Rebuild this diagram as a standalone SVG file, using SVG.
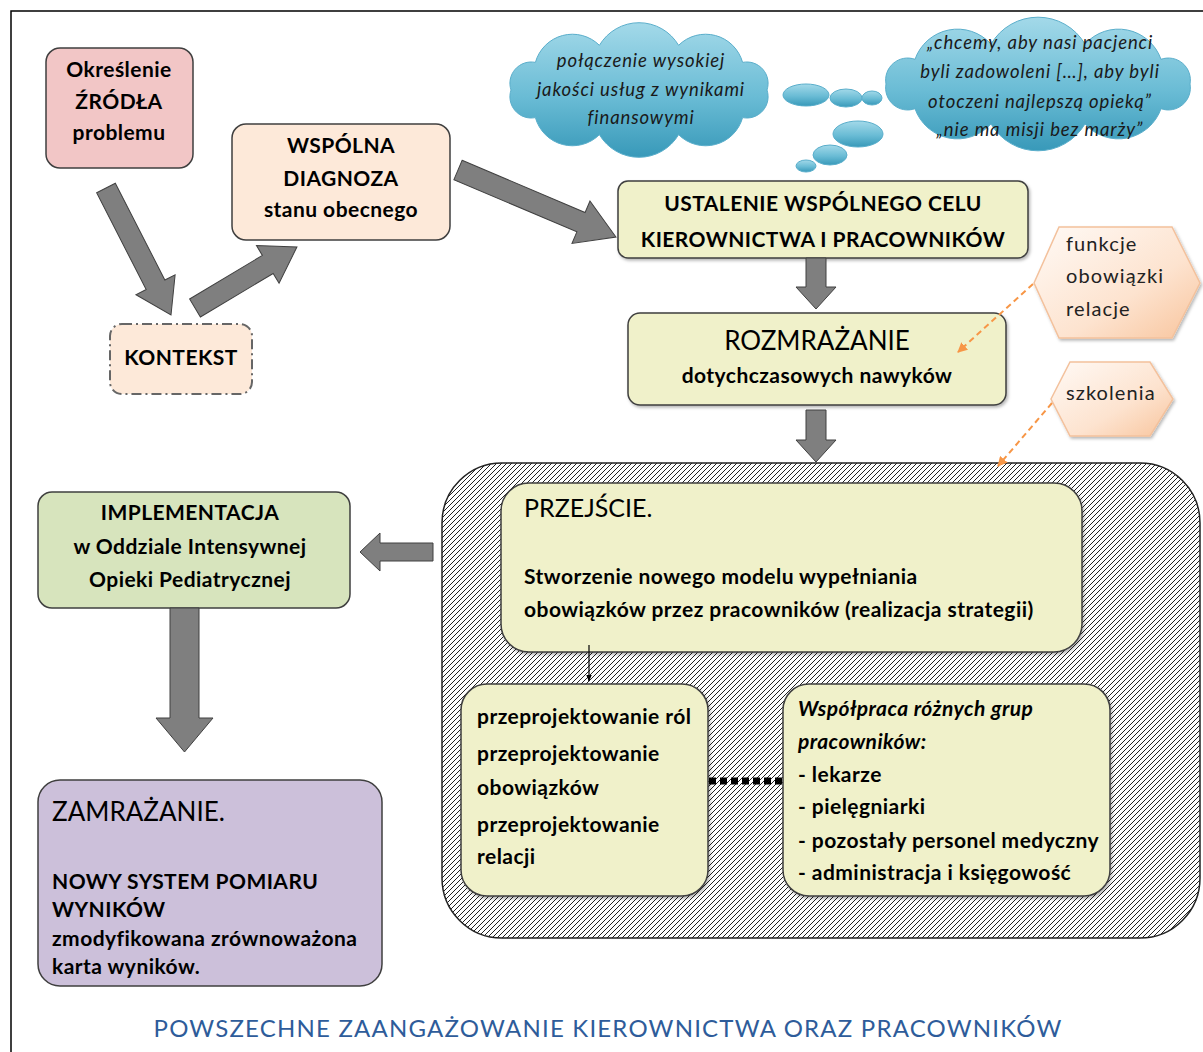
<svg xmlns="http://www.w3.org/2000/svg" width="1203" height="1052" viewBox="0 0 1203 1052">
<defs>
<style>
.box{stroke:#3f3f3f;stroke-width:1.5}
.t{font-family:Lato,"Liberation Sans",sans-serif}
.b{font-weight:bold;font-size:21px;letter-spacing:0.45px}
.c{text-anchor:middle}
.i{font-style:italic}
.big{font-size:26px}
.ct{font-size:18.5px;letter-spacing:0.9px;fill:#1a1a1a}
.ht{font-size:20px;letter-spacing:1.1px;fill:#222}
.arrow{fill:#7f7f7f;stroke:#404040;stroke-width:1}
.cloud{fill:url(#cg);stroke:#5aaecb;stroke-width:1}
.hex{fill:url(#hg);stroke:#f3c19c;stroke-width:1.5}
.dash{stroke:#F79646;stroke-width:2;stroke-dasharray:6 4;fill:none}
</style>
<linearGradient id="cg" x1="0" y1="0" x2="0" y2="1">
<stop offset="0" stop-color="#a3d9e9"/>
<stop offset="0.55" stop-color="#6abcd5"/>
<stop offset="1" stop-color="#3899b9"/>
</linearGradient>
<linearGradient id="hg" x1="0" y1="0" x2="1" y2="1">
<stop offset="0" stop-color="#fffaf6"/>
<stop offset="0.6" stop-color="#fde3cf"/>
<stop offset="1" stop-color="#f8c49c"/>
</linearGradient>
<filter id="sh" x="-10%" y="-10%" width="120%" height="130%">
<feDropShadow dx="1.5" dy="2" stdDeviation="1.8" flood-color="#000" flood-opacity="0.28"/>
</filter>
<pattern id="hatch" patternUnits="userSpaceOnUse" width="5" height="5">
<rect width="5" height="5" fill="#fff"/>
<path d="M-1,1 l2,-2 M0,5 l5,-5 M4,6 l2,-2" stroke="#222" stroke-width="1"/>
</pattern>
<marker id="om" viewBox="0 0 10 10" refX="9" refY="5" markerWidth="5" markerHeight="5" orient="auto">
<path d="M0,0 L10,5 L0,10 z" fill="#F79646"/>
</marker>
<marker id="bm" viewBox="0 0 10 10" refX="9" refY="5" markerWidth="6" markerHeight="6" orient="auto">
<path d="M0,1 L10,5 L0,9 z" fill="#000"/>
</marker>
</defs>
<rect width="1203" height="1052" fill="#fff"/>
<rect x="11" y="11" width="1220" height="1100" fill="none" stroke="#000" stroke-width="1.5"/>

<g id="clouds">
<path class="cloud" d="M767,90 A21.3,21.3 0 0 1 742.6,117.6 A38.4,38.4 0 0 1 678.6,134.7 A46,46 0 0 1 599.4,134.7 A38.4,38.4 0 0 1 535.4,117.6 A21.3,21.3 0 0 1 511,90 A21.3,21.3 0 0 1 535.4,62.4 A38.4,38.4 0 0 1 599.4,45.3 A46,46 0 0 1 678.6,45.3 A38.4,38.4 0 0 1 742.6,62.4 A21.3,21.3 0 0 1 767,90 Z"/>
<ellipse class="cloud" cx="806" cy="95" rx="23" ry="11"/>
<ellipse class="cloud" cx="846" cy="98" rx="16" ry="9"/>
<ellipse class="cloud" cx="872" cy="98" rx="10" ry="7"/>
<ellipse class="cloud" cx="858" cy="134" rx="25" ry="13"/>
<ellipse class="cloud" cx="830" cy="155" rx="17" ry="10"/>
<ellipse class="cloud" cx="806" cy="166" rx="10" ry="6"/>
<path class="cloud" d="M1190,84 A22,22 0 0 1 1161,108.7 A45,45 0 0 1 1085,123.9 A54.5,54.5 0 0 1 991,123.9 A45,45 0 0 1 915,108.7 A22,22 0 0 1 886,84 A22,22 0 0 1 915,59.3 A45,45 0 0 1 991,44.1 A54.5,54.5 0 0 1 1085,44.1 A45,45 0 0 1 1161,59.3 A22,22 0 0 1 1190,84 Z"/>
<g class="t i c ct">
<text x="641" y="67">połączenie wysokiej</text>
<text x="641" y="96">jakości usług z wynikami</text>
<text x="641" y="124">finansowymi</text>
<text x="1040" y="49">„chcemy, aby nasi pacjenci</text>
<text x="1040" y="78">byli zadowoleni […], aby byli</text>
<text x="1040" y="108">otoczeni najlepszą opieką”</text>
<text x="1040" y="136">„nie ma misji bez marży”</text>
</g>
</g>

<g id="node-zrodla">
<rect class="box" x="46" y="48" width="147" height="120" rx="14" fill="#F2C6C6"/>
<g class="t b c">
<text x="119" y="77">Określenie</text>
<text x="119" y="109">ŹRÓDŁA</text>
<text x="119" y="140">problemu</text>
</g>
</g>

<g id="node-diagnoza">
<rect class="box" x="232" y="124" width="218" height="116" rx="14" fill="#FDE9D9"/>
<g class="t b c">
<text x="341" y="153">WSPÓLNA</text>
<text x="341" y="186">DIAGNOZA</text>
<text x="341" y="217">stanu obecnego</text>
</g>
</g>

<g id="node-kontekst">
<rect x="110" y="324" width="142" height="70" rx="12" fill="#FDE9D9" stroke="#666" stroke-width="2" stroke-dasharray="10 4 2 4"/>
<text class="t b c" x="181" y="365">KONTEKST</text>
</g>

<g id="node-cel">
<rect class="box" x="618" y="181" width="410" height="77" rx="10" fill="#F0F1CA" filter="url(#sh)"/>
<g class="t b c">
<text x="823" y="211">USTALENIE WSPÓLNEGO CELU</text>
<text x="823" y="247">KIEROWNICTWA I PRACOWNIKÓW</text>
</g>
</g>

<g id="node-rozmrazanie">
<rect class="box" x="628" y="313" width="378" height="92" rx="12" fill="#F0F1CA" filter="url(#sh)"/>
<text class="t c big" x="817" y="350">ROZMRAŻANIE</text>
<text class="t b c" x="817" y="383">dotychczasowych nawyków</text>
</g>

<g id="node-funkcje">
<polygon class="hex" points="1034,283 1059,227 1172,227 1200,283 1172,338 1059,338" filter="url(#sh)"/>
<g class="t ht">
<text x="1066" y="251">funkcje</text>
<text x="1066" y="283">obowiązki</text>
<text x="1066" y="316">relacje</text>
</g>
</g>

<g id="node-szkolenia">
<polygon class="hex" points="1051,399 1070,362 1150,362 1173,399 1150,436 1070,436" filter="url(#sh)"/>
<text class="t ht" x="1066" y="400">szkolenia</text>
</g>

<g id="node-przejscie-container">
<rect x="442" y="463" width="758" height="475" rx="60" fill="url(#hatch)" stroke="#222" stroke-width="1.5"/>
</g>

<g id="node-przejscie">
<rect class="box" x="501" y="483" width="581" height="169" rx="28" fill="#F0F1CA" filter="url(#sh)"/>
<text class="t" x="524" y="517" font-size="25">PRZEJŚCIE.</text>
<g class="t b">
<text x="524" y="584">Stworzenie nowego modelu wypełniania</text>
<text x="524" y="617">obowiązków przez pracowników (realizacja strategii)</text>
</g>
</g>

<g id="node-przeprojektowanie">
<rect class="box" x="461" y="684" width="247" height="212" rx="26" fill="#F0F1CA" filter="url(#sh)"/>
<g class="t b">
<text x="477" y="724">przeprojektowanie ról</text>
<text x="477" y="761">przeprojektowanie</text>
<text x="477" y="795">obowiązków</text>
<text x="477" y="832">przeprojektowanie</text>
<text x="477" y="864">relacji</text>
</g>
</g>

<g id="node-wspolpraca">
<rect class="box" x="783" y="684" width="327" height="212" rx="26" fill="#F0F1CA" filter="url(#sh)"/>
<g class="t b">
<text class="i" x="798" y="716">Współpraca różnych grup</text>
<text class="i" x="798" y="749">pracowników:</text>
<text x="798" y="782">- lekarze</text>
<text x="798" y="814">- pielęgniarki</text>
<text x="798" y="848">- pozostały personel medyczny</text>
<text x="798" y="880">- administracja i księgowość</text>
</g>
</g>

<g id="node-implementacja">
<rect class="box" x="38" y="492" width="312" height="116" rx="14" fill="#D7E4BD"/>
<g class="t b c">
<text x="190" y="520">IMPLEMENTACJA</text>
<text x="190" y="554">w Oddziale Intensywnej</text>
<text x="190" y="587">Opieki Pediatrycznej</text>
</g>
</g>

<g id="node-zamrazanie">
<rect class="box" x="38" y="780" width="344" height="206" rx="22" fill="#CCC0DA"/>
<text class="t big" x="52" y="821">ZAMRAŻANIE.</text>
<g class="t b">
<text x="52" y="889">NOWY SYSTEM POMIARU</text>
<text x="52" y="917">WYNIKÓW</text>
<text x="52" y="946">zmodyfikowana zrównoważona</text>
<text x="52" y="974">karta wyników.</text>
</g>
</g>

<g id="connectors">
<polygon class="arrow" points="0,-10.5 108.7,-10.5 108.7,-22 142.7,0 108.7,22 108.7,10.5 0,10.5" transform="translate(106,188) rotate(62.9)"/>
<polygon class="arrow" points="0,-10.5 84.8,-10.5 84.8,-22 118.8,0 84.8,22 84.8,10.5 0,10.5" transform="translate(195,308) rotate(-30.9)"/>
<polygon class="arrow" points="0,-10.5 133.6,-10.5 133.6,-23 171.6,0 133.6,23 133.6,10.5 0,10.5" transform="translate(458,170) rotate(23)"/>
<polygon class="arrow" points="806,258 826,258 826,287 836,287 816,309 796,287 806,287"/>
<polygon class="arrow" points="806,410 826,410 826,440 836,440 816,462 796,440 806,440"/>
<polygon class="arrow" points="433,543 380,543 380,533 360,552 380,571 380,561 433,561"/>
<polygon class="arrow" points="170,608 199,608 199,718 213,718 184.5,752 156,718 170,718"/>
<line class="dash" x1="1033" y1="284" x2="958" y2="352" marker-end="url(#om)"/>
<line class="dash" x1="1052" y1="403" x2="998" y2="466" marker-end="url(#om)"/>
<line x1="589" y1="645" x2="589" y2="681" stroke="#000" stroke-width="1.2" marker-end="url(#bm)"/>
<line x1="709" y1="781" x2="783" y2="781" stroke="#000" stroke-width="7" stroke-dasharray="7 4"/>
</g>

<text class="t c" x="608" y="1037" font-size="24" letter-spacing="1.2" fill="#2E5C9A">POWSZECHNE ZAANGAŻOWANIE KIEROWNICTWA ORAZ PRACOWNIKÓW</text>
</svg>
